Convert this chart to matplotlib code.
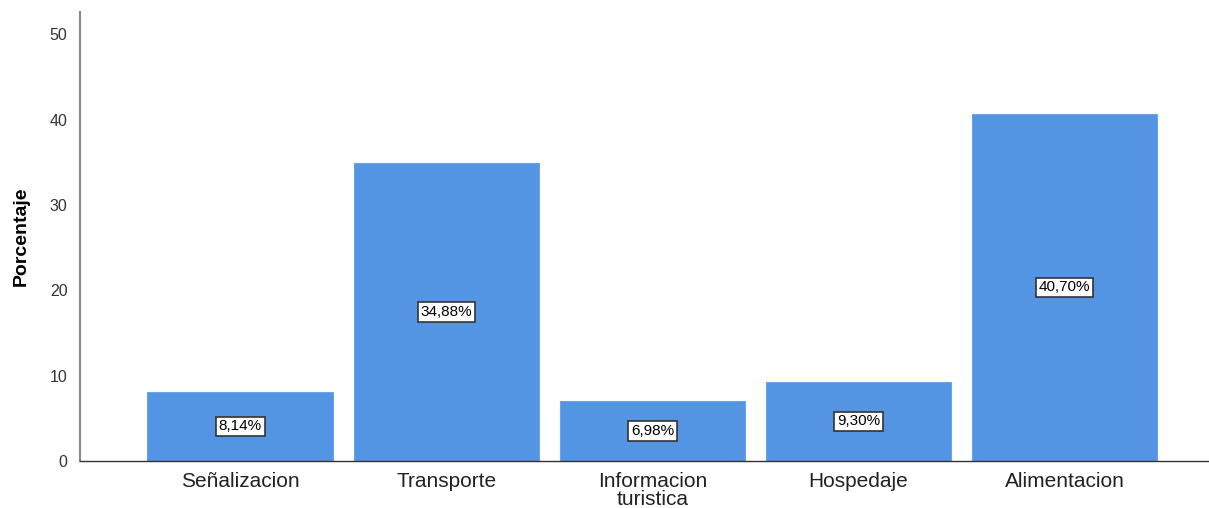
import matplotlib
matplotlib.use("Agg")
import matplotlib.pyplot as plt

categories = ["Señalizacion", "Transporte", "Informacion\nturistica", "Hospedaje", "Alimentacion"]
percentages = [8.14, 34.88, 6.98, 9.30, 40.70]
y_ticks = [0, 10, 20, 30, 40, 50]

plt.rcParams["font.family"] = ["Liberation Sans", "DejaVu Sans"]

fig = plt.figure(figsize=(12.09, 5.08), dpi=100)
ax = fig.add_axes([0.0662, 0.0925, 0.9338, 0.8835])

x = range(len(categories))
ax.bar(x, percentages, width=0.9, color="#5495e3", edgecolor="#6aa3e8", linewidth=0.8)

# value labels in the middle of each bar, SPSS style
for xi, v in zip(x, percentages):
    ax.text(xi, v / 2, f"{v:.2f}%".replace(".", ","), ha="center", va="center",
            fontsize=11, color="black",
            bbox=dict(boxstyle="square,pad=0.18", facecolor="white",
                      edgecolor="#333333", linewidth=1.2))

ax.set_xlim(-0.777, 4.70)
ax.set_ylim(0, 52.6)
ax.set_yticks(y_ticks)
ax.set_xticks(list(x))
ax.set_xticklabels(categories, fontsize=15, color="#222222", linespacing=0.9)
ax.tick_params(axis="y", length=0, labelsize=11.5, labelcolor="#333333", pad=9)
ax.tick_params(axis="x", length=0, pad=8)
ax.set_ylabel("Porcentaje", fontsize=14, fontweight="bold", labelpad=14)

for side in ("top", "right"):
    ax.spines[side].set_visible(False)
ax.spines["left"].set_color("#888888")
ax.spines["left"].set_linewidth(1.5)
ax.spines["bottom"].set_color("#333333")
ax.spines["bottom"].set_linewidth(1.0)

fig.savefig("out.png", dpi=100)
